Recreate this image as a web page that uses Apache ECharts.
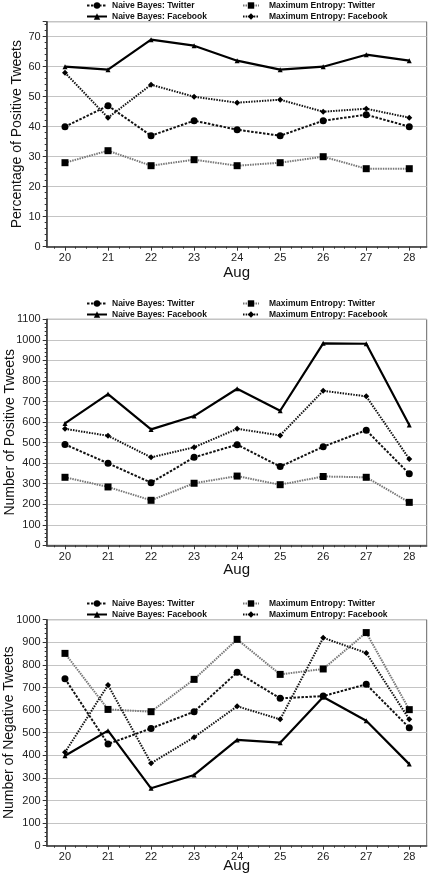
<!DOCTYPE html>
<html>
<head>
<meta charset="utf-8">
<script src="https://cdn.jsdelivr.net/npm/echarts@6/dist/echarts.min.js"></script>
<style>
html,body{margin:0;padding:0;background:#fff;}
#chart{width:428px;height:874px;}
</style>
</head>
<body>
<div id="chart"></div>
<script>
// ---- data ----
const days = [20, 21, 22, 23, 24, 25, 26, 27, 28];
const xLabel = 'Aug';
const seriesNames = ['Naive Bayes: Twitter', 'Naive Bayes: Facebook', 'Maximum Entropy: Twitter', 'Maximum Entropy: Facebook'];
const yTitles = ['Percentage of Positive Tweets', 'Number of Positive Tweets', 'Number of Negative Tweets'];

// Chart 1: percentage of positive tweets
const pctNbTwitter = [40, 47, 37, 42, 39, 37, 42, 44, 40];
const pctNbFacebook = [60, 59, 69, 67, 62, 59, 60, 64, 62];
const pctMeTwitter = [28, 32, 27, 29, 27, 28, 30, 26, 26];
const pctMeFacebook = [58, 43, 54, 50, 48, 49, 45, 46, 43];

// Chart 2: number of positive tweets
const posNbTwitter = [491, 399, 305, 428, 490, 383, 480, 560, 348];
const posNbFacebook = [593, 736, 564, 629, 762, 655, 983, 981, 585];
const posMeTwitter = [331, 284, 219, 302, 337, 295, 335, 331, 209];
const posMeFacebook = [567, 533, 428, 477, 567, 535, 752, 725, 420];

// Chart 3: number of negative tweets
const negNbTwitter = [739, 450, 519, 593, 767, 652, 662, 714, 522];
const negNbFacebook = [398, 509, 254, 313, 468, 456, 658, 553, 361];
const negMeTwitter = [851, 603, 593, 736, 913, 758, 782, 943, 602];
const negMeFacebook = [413, 711, 365, 480, 617, 559, 920, 853, 559];

const yMax = [75, 1100, 1000];
const yInterval = [10, 100, 100];

// ---- layout ----
const FONT = '"Liberation Sans", Arial, sans-serif';
const grids = [
  {left: 46.7, right: 1.3, top: 21.7, height: 225},
  {left: 46.7, right: 1.3, top: 319.3, height: 226},
  {left: 46.7, right: 1.3, top: 619.7, height: 226}
];
const legendTops = [1, 299, 599];
const xNameGaps = [19, 17, 13];
const yNameGaps = [23, 30, 31];
const X_MIN = 19.575, X_MAX = 28.405;

const minorX = [];
for (let d = 20; d < 28; d++) { minorX.push(d + 0.25, d + 0.5, d + 0.75); }
minorX.push(19.75, 28.25);

const styles = [
  {symbol: 'circle', symbolSize: 7, lineStyle: {color: '#111', width: 2, type: [2.5, 1.5]}, itemStyle: {color: '#000'}},
  {symbol: 'triangle', symbolSize: 5, lineStyle: {color: '#000', width: 2.2, type: 'solid'}, itemStyle: {color: '#000'}},
  {symbol: 'rect', symbolSize: 7, lineStyle: {color: '#777', width: 2, type: [1.5, 1]}, itemStyle: {color: '#000'}},
  {symbol: 'diamond', symbolSize: 6, lineStyle: {color: '#111', width: 2, type: [1.5, 1.2]}, itemStyle: {color: '#000'}}
];

const allData = [
  [pctNbTwitter, pctNbFacebook, pctMeTwitter, pctMeFacebook],
  [posNbTwitter, posNbFacebook, posMeTwitter, posMeFacebook],
  [negNbTwitter, negNbFacebook, negMeTwitter, negMeFacebook]
];

const xAxes = [], yAxes = [], series = [], legends = [];
grids.forEach((g, i) => {
  xAxes.push({
    type: 'value', gridIndex: i, min: X_MIN, max: X_MAX,
    name: xLabel, nameLocation: 'middle', nameGap: xNameGaps[i], nameMoveOverlap: false,
    nameTextStyle: {fontFamily: FONT, fontSize: 15, color: '#111'},
    axisLine: {show: true, onZero: false, lineStyle: {color: '#333', width: 1.5}},
    axisTick: {show: true, length: 4, inside: false, customValues: days, lineStyle: {color: '#333'}},
    axisLabel: {show: true, customValues: days, fontFamily: FONT, fontSize: 11, color: '#222', margin: 6},
    splitLine: {show: false}
  });
  yAxes.push({
    type: 'value', gridIndex: i, min: 0, max: yMax[i], interval: yInterval[i],
    name: yTitles[i], nameLocation: 'middle', nameGap: yNameGaps[i], nameMoveOverlap: false,
    nameTextStyle: {fontFamily: FONT, fontSize: 14, color: '#111'},
    axisLine: {show: true, lineStyle: {color: '#333', width: 1.5}},
    axisTick: {show: true, length: 4, lineStyle: {color: '#333'}},
    minorTick: {show: true, splitNumber: 5, length: 2, lineStyle: {color: '#333'}},
    axisLabel: {fontFamily: FONT, fontSize: 11, color: '#222', margin: 6, showMaxLabel: i !== 0,
      formatter: v => String(v)},
    splitLine: {show: true, lineStyle: {color: '#c4c4c4', width: 1}}
  });
  const names0 = [seriesNames[0], seriesNames[1]];
  const names1 = [seriesNames[2], seriesNames[3]];
  const legendCommon = {
    orient: 'vertical', top: legendTops[i], padding: 0, itemGap: 2, itemHeight: 8,
    selectedMode: false,
    textStyle: {fontFamily: FONT, fontSize: 8.5, fontWeight: 'bold', color: '#111'}
  };
  legends.push(Object.assign({}, legendCommon, {data: names0, left: 86, itemWidth: 20}));
  legends.push(Object.assign({}, legendCommon, {data: names1, left: 242, itemWidth: 16,
    textStyle: Object.assign({}, legendCommon.textStyle, {padding: [0, 0, 0, 5]})}));
  allData[i].forEach((vals, k) => {
    series.push(Object.assign({
      type: 'line', name: seriesNames[k], xAxisIndex: i, yAxisIndex: i,
      data: days.map((d, j) => [d, vals[j]]),
      animation: false, z: 3 + k
    }, styles[k]));
  });
});
// overlay axes for minor x ticks
grids.forEach((g, i) => {
  xAxes.push({
    type: 'value', gridIndex: i, min: X_MIN, max: X_MAX, position: 'bottom',
    axisLine: {show: false, onZero: false},
    axisTick: {show: true, length: 2, customValues: minorX, lineStyle: {color: '#333'}},
    axisLabel: {show: false},
    splitLine: {show: false}
  });
});

const option = {
  backgroundColor: '#fff',
  animation: false,
  grid: grids.map(g => Object.assign({show: true, borderColor: '#666', borderWidth: 1, backgroundColor: 'transparent',
    containLabel: false, outerBoundsMode: 'none'}, g)),
  legend: legends,
  xAxis: xAxes,
  yAxis: yAxes,
  series: series
};
const chart = echarts.init(document.getElementById('chart'), null, {renderer: 'canvas'});
chart.setOption(option);
</script>
</body>
</html>
